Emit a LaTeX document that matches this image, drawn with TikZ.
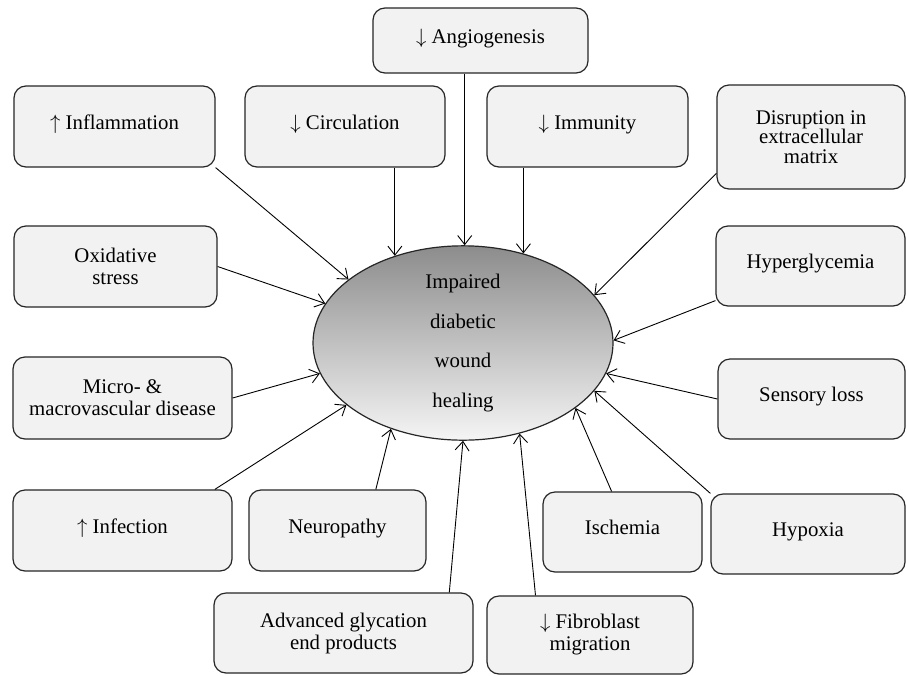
\documentclass[tikz,border=0pt]{standalone}
\usepackage{fontspec}
\setmainfont{Liberation Serif}
\usepackage{tikz}
\usetikzlibrary{arrows.meta,shapes,positioning}

\begin{document}
\begin{tikzpicture} [x=1pt, y=-1pt, >={Straight Barb[length=9pt,width=14pt]},
	   line width=0.9pt, text=black,
	   every node/.style={font=\fontsize{20.8}{22}\selectfont},
	   factor/.style 2 args = {rectangle, rounded corners=12pt, minimum width=#1,
	                           minimum height=#2, inner sep=0pt, line width=1.2pt,
	                           draw=black!85, fill=black!5, align=center},
	   oneline/.style = {text height=1.5ex, text depth=.25ex},
	   outcome/.style = {ellipse, minimum width=300pt, minimum height=162pt,
	                     inner sep=0pt, line width=1.2pt, draw=black!85,
	                     top color=black!45, bottom color=black!4, align=center,
	                     font=\fontsize{20.8}{39.5}\selectfont}]
	%% Canvas
	\useasboundingbox[fill=white] (0,0) rectangle (907,675);

	%% Central outcome
	\node [outcome] (heal) at (463,343) {Impaired\\diabetic\\wound\\healing};

	%% Factors, top row
	\node [factor={215pt}{65pt},oneline] (angio) at (480.5,40.5) {$\downarrow$ Angiogenesis};
	\node [factor={201pt}{81pt},oneline] (infl)  at (114.5,126.5) {$\uparrow$ Inflammation};
	\node [factor={200pt}{81pt},oneline] (circ)  at (345,126.5) {$\downarrow$ Circulation};
	\node [factor={201pt}{81pt},oneline] (immu)  at (587.5,126.5) {$\downarrow$ Immunity};
	\node [factor={188pt}{104pt},font=\fontsize{20.8}{19.5}\selectfont] (disr) at (811,137)
	      {Disruption in\\extracellular\\matrix};

	%% Factors, sides
	\node [factor={203pt}{81pt}] (oxid)  at (115.5,266.5) {Oxidative\\stress};
	\node [factor={189pt}{80pt},oneline] (hyper) at (810.5,266) {Hyperglycemia};
	\node [factor={219pt}{82pt}] (micro) at (122.5,398) {Micro- \&\\macrovascular disease};
	\node [factor={187pt}{80pt},oneline] (sens)  at (811.5,399) {Sensory loss};

	%% Factors, bottom rows
	\node [factor={219pt}{81pt},oneline] (infec) at (122.5,530.5) {$\uparrow$ Infection};
	\node [factor={177pt}{81pt},oneline] (neuro) at (337.5,530.5) {Neuropathy};
	\node [factor={159pt}{80pt},oneline] (isch)  at (622.5,532) {Ischemia};
	\node [factor={194pt}{80pt},oneline] (hypox) at (808,534) {Hypoxia};
	\node [factor={259pt}{80pt}] (adv)   at (343.5,633) {Advanced glycation\\end products};
	\node [factor={206pt}{78pt}] (fibro) at (590,635) {$\downarrow$ Fibroblast\\migration};

	%% Paths
	\draw[->] (infl.south east) -- (heal.151);
	\draw[->] (circ.south -| heal.128) -- (heal.128);
	\draw[->] (angio.south -| heal.89) -- (heal.89);
	\draw[->] (immu.south -| heal.56) -- (heal.56);
	\draw[->] (disr.201) -- (heal.20);
	\draw[->] (oxid.east) -- (heal.164);
	\draw[->] (hyper.200) -- (heal.1);
	\draw[->] (micro.east) -- (heal.192);
	\draw[->] (sens.west) -- (heal.348);
	\draw[->] (infec.24) -- (heal.208);
	\draw[->] (neuro.47) -- (heal.230);
	\draw[->] (adv.21) -- (heal.270);
	\draw[->] (fibro.144) -- (heal.302);
	\draw[->] (isch.105) -- (heal.330);
	\draw[->] (hypox.north west) -- (heal.340);
\end{tikzpicture}
\end{document}
